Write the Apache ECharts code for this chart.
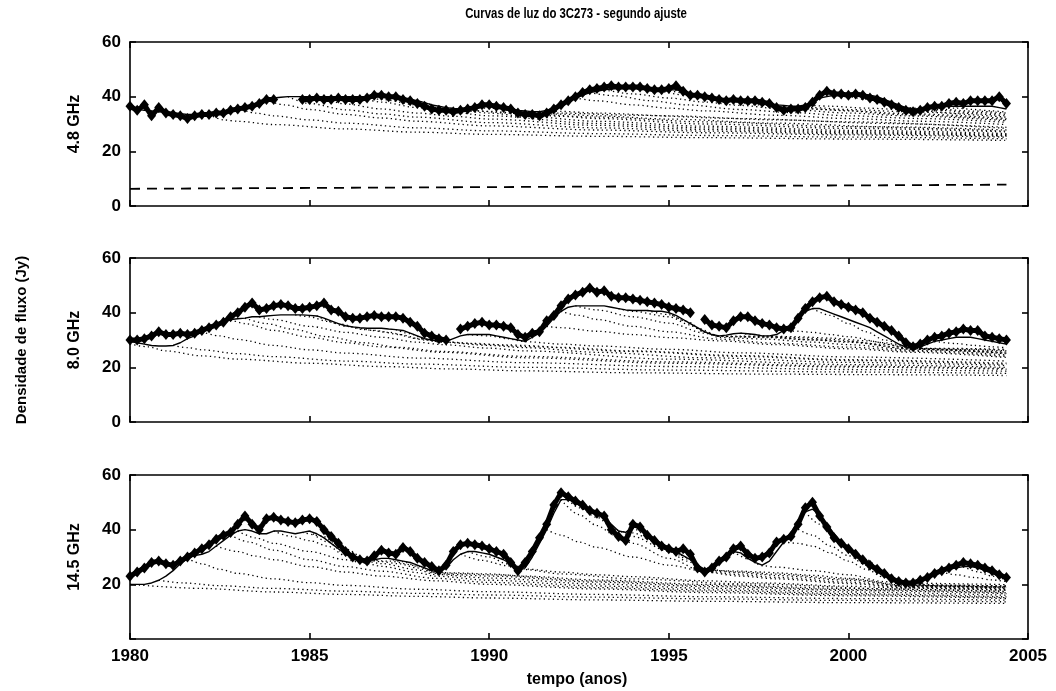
<!DOCTYPE html>
<html>
<head>
<meta charset="utf-8">
<script src="https://cdn.jsdelivr.net/npm/echarts@6/dist/echarts.min.js"></script>
<style>
html,body{margin:0;padding:0;background:#fff;}
#chart{width:1056px;height:691px;}
</style>
</head>
<body>
<div id="chart"></div>
<script>
// ---------------- DATA ----------------
const titleText = 'Curvas de luz do 3C273 - segundo ajuste';
const panelLabels = ['4.8 GHz', '8.0 GHz', '14.5 GHz'];
const yLabel = 'Densidade de fluxo (Jy)';
const xLabel = 'tempo (anos)';
const xTicks = [1980, 1985, 1990, 1995, 2000, 2005];
const yTicks = [0, 20, 40, 60];

// sampling times: 1980.0 ... 2004.4, every 0.2 yr (5 per year)
const years = [];
for (let i = 0; i < 123; i++) years.push(Math.round((1980 + i * 0.2) * 10) / 10);

// 4.8 GHz observed flux (Jy)
const obs48 = [
  36.5, 35, 37, 33, 36,        // 1980
  34, 33.5, 33, 32, 33,        // 1981
  33.5, 33.5, 34, 34, 35,      // 1982
  35.5, 36, 36.5, 37.5, 39,    // 1983
  39, null, null, null, 39,    // 1984
  39, 39.5, 39, 39, 39.5,      // 1985
  39, 39, 39, 39.5, 40.5,      // 1986
  40.5, 40, 40, 39, 38.5,      // 1987
  37.5, 36.5, 35.5, 35, 35,    // 1988
  34.5, 35, 35.5, 36, 37,      // 1989
  37, 36.5, 36, 35.5, 34,      // 1990
  33.5, 33.5, 33, 34, 35.5,    // 1991
  37, 38.5, 40, 41.5, 42.5,    // 1992
  43, 43.5, 44, 43.5, 43.5,    // 1993
  43.5, 43.5, 43, 42.5, 42.5,  // 1994
  43, 44, 42, 40.5, 40.5,      // 1995
  40, 39.5, 39, 38.5, 39,      // 1996
  38.5, 38.5, 38.5, 38, 37.5,  // 1997
  36, 35, 35.5, 35.5, 36,      // 1998
  38, 40.5, 42, 41, 41,        // 1999
  40.5, 41, 40.5, 39.5, 39,    // 2000
  38, 37, 36, 35, 34.5,        // 2001
  35, 36, 36.5, 36.5, 37.5,    // 2002
  38, 37.5, 38.5, 38.5, 38.5,  // 2003
  38.5, 40, 37.5               // 2004
];
// 4.8 GHz fitted total (solid)
const fit48 = [
  36, 35.5, 35, 34.8, 34.5,
  34.3, 34, 33.8, 33.5, 33.5,
  33.5, 33.5, 34, 34.5, 35.5,
  36, 36.5, 37, 38, 38.8,
  39.5, 39.8, 40, 40, 40,
  40, 40, 40, 40, 40,
  40, 40, 40, 40, 40,
  40, 40, 40, 39.5, 39,
  38.5, 37.8, 37, 36.5, 36,
  35.7, 35.5, 35.5, 36, 36.3,
  36.5, 36.3, 36, 35.5, 35,
  34.8, 34.5, 34.5, 35, 36,
  37, 38.3, 39.5, 40.5, 41.5,
  42, 42.5, 42.8, 43, 43,
  43, 43, 43, 42.8, 42.5,
  42.5, 42.5, 42, 41, 40.5,
  40, 39.5, 39, 38.8, 38.5,
  38.3, 38, 37.8, 37.5, 37.3,
  37, 36.8, 36.5, 36.5, 37,
  38, 39.5, 40, 40.5, 40.8,
  41, 41, 41, 40.5, 40,
  39, 38, 37, 36, 35.6,
  35.5, 35.8, 36, 36.3, 36.5,
  36.5, 36.5, 36.5, 36.5, 36.5,
  36.5, 36, 35.5
];
// 4.8 GHz constant component (dashed)
const base48 = [[1980, 6.3], [2004.4, 7.8]];
// 4.8 GHz cumulative component curves (dotted), [year, Jy]
const dots48 = [
  [[1982.2,33.5],[1982.6,31.5],[1983,31],[1984,29.8],[1986,28.2],[1988,27],[1990,26.2],[1993,25.5],[1996,25],[2000,24.5],[2004.4,24]],
  [[1983,35.8],[1983.5,34],[1984,33],[1985,31.5],[1986,30.3],[1988,28.6],[1990,27.5],[1993,26.5],[1996,25.8],[2000,25.2],[2004.4,24.6]],
  [[1983.8,38.8],[1984.3,37],[1985,35.3],[1986,33.5],[1987,32.2],[1988,31],[1990,29.3],[1993,27.8],[1996,26.8],[2000,26],[2004.4,25.2]],
  [[1984.4,40],[1985,37.5],[1986,35.2],[1987,33.7],[1988,32.5],[1990,30.5],[1993,28.6],[1996,27.4],[2000,26.4],[2004.4,25.5]],
  [[1985,40],[1985.5,38.5],[1986,37.3],[1987,35.5],[1988,34],[1989,32.8],[1990,31.8],[1993,29.5],[1996,28],[2000,26.8],[2004.4,25.8]],
  [[1986,40],[1986.5,39],[1987,38],[1988,36],[1989,34.2],[1990,33],[1993,30.2],[1996,28.6],[2000,27.2],[2004.4,26.1]],
  [[1986.5,40],[1987,39],[1988,37],[1989,35.2],[1990,34],[1991,32.8],[1993,31],[1996,29.2],[2000,27.7],[2004.4,26.5]],
  [[1987.6,39.5],[1988,38.2],[1989,35],[1990,34.6],[1991,33.8],[1992,32.8],[1993,32],[1996,30],[2000,28.4],[2004.4,27.1]],
  [[1988.8,36],[1989.5,35],[1990.5,34],[1991.2,33.5],[1993,32.5],[1996,30.8],[2000,29],[2004.4,27.4]],
  [[1989.6,36],[1990,35.8],[1991,34.2],[1992,33.6],[1993,33],[1995,31.8],[1998,30.3],[2001,29],[2004.4,27.8]],
  [[1990.4,36],[1991,34.4],[1992,34],[1994,33.2],[1997,32],[2000,30.8],[2004.4,28.4]],
  [[1991.6,35],[1992,34.6],[1993,34],[1995,33],[1998,31.5],[2001,30.2],[2004.4,28.8]],
  [[1992.4,39.5],[1993,38.5],[1994,37],[1995,35.8],[1996,34.8],[1998,33.2],[2000,32],[2002,31],[2004.4,29.8]],
  [[1992.8,41.5],[1993.5,40.3],[1994.5,38.5],[1995.5,37],[1997,35.3],[1998.4,34.2],[2000,33],[2002,32],[2004.4,30.6]],
  [[1993.2,42.5],[1994,41],[1995,39.5],[1996,38],[1997,36.8],[1998,35.7],[2000,34],[2001.6,33],[2004.4,31.2]],
  [[1994,43],[1994.5,42.4],[1995.5,40.5],[1996.5,38.5],[1997.5,37],[1998.4,36],[1999.5,35.2],[2001.6,33.4],[2004.4,31.6]],
  [[1994.4,43],[1995,42],[1996,39.8],[1997,38],[1998,36.3],[1999,35.5],[2000,34.8],[2001.6,33.8],[2004.4,32]],
  [[1995.6,41],[1996,40],[1997,38.3],[1998,36.6],[1998.4,36.3],[1999,36],[2000,35.3],[2001.6,34.5],[2004.4,32.5]],
  [[1998.8,37],[1999.5,36.5],[2000.5,35.8],[2001.6,35.2],[2003,34],[2004.4,33]],
  [[1999.6,40.5],[2000,40],[2000.5,39],[2001,37.5],[2001.6,35.7],[2002.5,35],[2003.5,34.2],[2004.4,33.5]],
  [[2000.4,41],[2001,38.3],[2001.6,35.9],[2002.5,35.4],[2003.5,34.7],[2004.4,34]],
  [[2002.4,36],[2003,35.8],[2003.5,35.3],[2004,34.8],[2004.4,34.3]]
];

// 8.0 GHz observed flux (Jy)
const obs80 = [
  30, 30, 30.5, 31.5, 33,
  32, 32, 32.5, 32, 32.5,
  33.5, 34.5, 35.5, 36.5, 38.5,
  40, 42, 43.5, 41, 41.5,
  42.5, 43, 42.5, 41.5, 41.5,
  42, 42.5, 43.5, 41, 40.5,
  38.5, 38, 38, 38.5, 39,
  38.5, 38.5, 38.5, 38, 36.5,
  35, 32.5, 31.5, 30.5, 30,
  null, 34, 35, 36, 36.5,
  35.5, 35.5, 35, 34.5, 32,
  31, 32.5, 33, 37, 39,
  42.5, 45, 46.5, 47.5, 49,
  47.5, 48, 46, 45.5, 45.5,
  45, 44.5, 44, 43.5, 43,
  42, 41.5, 41, 40, null,
  37.5, 35.5, 35, 34.5, 37,
  38.5, 38.5, 37, 36, 35.5,
  34.5, 34, 34.5, 38, 41.5,
  44, 45.5, 46, 44, 43,
  42, 41, 40, 38, 36.5,
  35, 33.5, 31.5, 29, 27.5,
  28.5, 30, 31, 31.5, 32.5,
  33, 34, 33.5, 33.5, 31.5,
  31, 30.5, 30
];
// 8.0 GHz fitted total (solid)
const fit80 = [
  29.5, 29, 28.5, 28, 27.8,
  27.8, 28, 29, 30.5, 31.5,
  33, 34, 35, 36.5, 37.5,
  37.8, 38, 38.5, 38.5, 38.8,
  39, 39.2, 39.2, 39.2, 39.2,
  39, 38.8, 38, 37, 36,
  35.2, 34.8, 34.5, 34.3, 34.3,
  34.3, 34, 33.8, 33.5, 32.5,
  31.5, 30.5, 30, 29.5, 29.5,
  30.5, 31.5, 32, 32, 32,
  32, 31.5, 31, 30.5, 30,
  29.5, 31, 32.5, 35, 38,
  40.5, 42, 42.5, 42.5, 42.5,
  42.5, 42.5, 42, 41.5, 41,
  40.8, 40.8, 40.8, 40.5, 40.5,
  40, 39, 37.5, 36, 34.5,
  33, 32, 31.5, 31.8, 32.3,
  32.5, 32.3, 32, 31.5, 31.5,
  32, 33.5, 35.5, 38, 40.5,
  41.5, 41.5, 40.5, 39.5, 38.5,
  37.5, 36.5, 35.5, 34.5, 33,
  31.5, 30, 28.5, 27.5, 27,
  27.5, 28.5, 29.5, 30, 30.5,
  31, 31, 31, 30.5, 30,
  29.5, 29, 28.5
];
// 8.0 GHz cumulative component curves (dotted)
const dots80 = [
  [[1980,28.5],[1980.5,27.5],[1981,26],[1982,24.2],[1983,23],[1985,21.5],[1987,20.3],[1989,19.4],[1991,18.7],[1994,18],[1998,17.5],[2001,17.3],[2004.4,17]],
  [[1981.2,28],[1981.6,27.2],[1982,26.4],[1983,25],[1984,23.9],[1986,22.3],[1988,21.2],[1991,20],[1995,19],[2000,18.3],[2004.4,17.8]],
  [[1982,33],[1982.5,31.5],[1983,30.2],[1984,28],[1985,26.4],[1986,25.2],[1988,23.4],[1991,21.7],[1995,20.3],[2000,19.2],[2004.4,18.6]],
  [[1982.8,37.5],[1983.2,36],[1984,33.5],[1985,31],[1986,29],[1987,27.5],[1988.7,25.5],[1991,23.5],[1995,21.5],[2000,20.1],[2004.4,19.3]],
  [[1983.2,38],[1983.8,36],[1984.5,34],[1985.5,31.2],[1986.5,29],[1987.5,27.3],[1988.7,25.8],[1991,24],[1995,22],[2000,20.4],[2004.4,19.6]],
  [[1983.6,38.5],[1984,37.5],[1985,35],[1986,32.8],[1987,31],[1988,29.2],[1988.7,28.3],[1990,27],[1991,26],[1995,23],[2000,21],[2004.4,20]],
  [[1984.6,39.2],[1985,38.5],[1985.5,36.8],[1986,35],[1986.8,33.5],[1987.5,32],[1988.2,30],[1988.7,29.2],[1990,28],[1991,27.2],[1993,25.5],[1996,23.5],[2000,21.8],[2004.4,20.7]],
  [[1985.2,38.8],[1985.8,36],[1986.5,33.8],[1987.2,32.8],[1988,30.5],[1988.7,29.3],[1990,28.3],[1991,27.6],[1994,25.8],[1997,24],[2000,22.5],[2004.4,21.1]],
  [[1987.4,33.8],[1987.8,32.3],[1988.2,30.3],[1988.7,29.4],[1989.5,28.8],[1990.5,28.2],[1991,28],[1992,27.3],[1994,26],[1997,24.3],[2000,22.8],[2004.4,21.5]],
  [[1989.4,32],[1990,31.5],[1990.5,30.5],[1991,29.4],[1992,28.5],[1993,27.8],[1995,26.6],[1997,25.3],[2000,23.8],[2004.4,22.3]],
  [[1991.6,35],[1992,34.5],[1993,33.2],[1994,32],[1995,30.9],[1996.4,29.7],[1998,28.3],[2000,26.8],[2001.8,25.5],[2004.4,23.6]],
  [[1992,40.5],[1992.5,39],[1993,37.5],[1994,35],[1995,33],[1996.4,30.3],[1998,28.8],[2000,27.4],[2001.8,25.9],[2004.4,24]],
  [[1992.4,42.5],[1993,41],[1994,38.5],[1995,36.2],[1996,32.5],[1996.4,31],[1997,30.6],[1997.7,30.3],[1999,29.2],[2000,28.3],[2001.8,26.3],[2004.4,24.5]],
  [[1993.6,41.5],[1994,40.5],[1995,38.5],[1995.6,35.5],[1996,32.8],[1996.4,31.3],[1997,31.1],[1997.7,30.9],[1999,30],[2000,29.2],[2001.8,26.6],[2004.4,25]],
  [[1994.4,40.8],[1995,39.3],[1995.5,36.8],[1996,33],[1996.4,31.35],[1997,31.2],[1997.7,31.1],[1999,30.1],[2000,29.4],[2001.8,26.7],[2004.4,25.2]],
  [[1995,40],[1995.4,37.2],[1995.8,34.3],[1996.4,31.45],[1997,31.4],[1997.7,31.3],[1998.5,30.9],[1999.5,30.2],[2001,28.4],[2001.8,26.8],[2004.4,25.5]],
  [[1997,32.5],[1997.4,31.9],[1997.7,31.4],[1998.5,31.2],[1999.5,30.7],[2000.5,29.7],[2001.8,26.9],[2003,26.5],[2004.4,26]],
  [[1998.2,33.5],[1998.6,33.2],[1999,32.8],[1999.5,32],[2000,31.2],[2001,29],[2001.8,26.95],[2003,26.7],[2004.4,26.3]],
  [[1999,41.5],[1999.5,39],[2000,36],[2000.5,33],[2001,30],[2001.8,26.98],[2003,26.9],[2004.4,26.6]],
  [[2002.4,29.5],[2003,28.7],[2003.5,28],[2004,27.5],[2004.4,27.2]]
];

// 14.5 GHz observed flux (Jy)
const obs145 = [
  23, 24.5, 26, 28, 28.5,
  27.5, 27, 28.5, 30, 31.5,
  33, 34.5, 36.5, 38, 39,
  42, 45, 42, 40, 44,
  44.5, 43.5, 43, 42.5, 43.5,
  44, 43, 40, 37.5, 35,
  32, 30, 29, 28.5, 30.5,
  32.5, 31.5, 31, 33.5, 32,
  29.5, 28, 26.5, 25, 27,
  32, 34.5, 35, 34.5, 34,
  33, 32, 31, 28, 25,
  28, 32, 37, 42, 49,
  53.5, 52, 50.5, 49, 47,
  46, 45, 40, 37.5, 36,
  42, 41, 38, 36, 34,
  33, 32, 33, 31, 26,
  24.5, 26, 28.5, 30, 33,
  34, 31, 29.5, 30, 31.5,
  35.5, 36.5, 37.5, 42, 48,
  50, 45, 41, 37, 35,
  33, 31, 29, 27, 25.5,
  24, 22, 21, 20.5, 20.5,
  21.5, 22.5, 24, 25, 26,
  27, 28, 27.5, 27, 26,
  25, 23.5, 22.5
];
// 14.5 GHz fitted total (solid)
const fit145 = [
  20, 20, 20, 20.5, 21.5,
  23, 25, 27.5, 29.5, 30.5,
  31, 32, 34, 36, 38,
  39.5, 40, 39.5, 38.5, 38.5,
  39.5, 39.5, 39, 38.5, 39,
  39.5, 38.5, 37, 35, 33,
  31.5, 30, 29.5, 29, 29,
  29.5, 29.5, 29, 28.5, 28,
  27, 26, 25, 24.5, 26,
  29, 31, 32, 32, 31.5,
  31, 30, 29, 27.5, 26,
  26, 30, 35, 40, 46,
  51, 51, 50, 48.5, 47,
  46, 44.5, 42, 39.5, 39,
  41, 40.5, 38.5, 36.5, 35,
  33.5, 32, 30.5, 29, 27,
  25.5, 26.5, 28.5, 30.5, 32,
  31.5, 29.5, 28, 27, 28.5,
  32, 35.5, 39, 43, 46.5,
  47.5, 45.5, 42, 38.5, 35.5,
  33, 30.5, 28.5, 26.5, 24.5,
  23, 21.5, 20.5, 20, 20.5,
  21.5, 22.5, 23.5, 24.5, 25.5,
  26, 26.5, 26.5, 26, 25,
  24, 23, 22
];
// 14.5 GHz cumulative component curves (dotted)
const dots145 = [
  [[1980,20],[1982,18.5],[1984,17.2],[1986,16.3],[1988,15.6],[1990,15],[1993,14.3],[1996,13.8],[2000,13.3],[2004.4,13]],
  [[1980.8,21.5],[1981.5,20.5],[1982.5,19.5],[1984,18.5],[1986,17.5],[1988,16.7],[1990,16.1],[1993,15.3],[1996,14.7],[2000,14.1],[2004.4,13.6]],
  [[1981.6,29.5],[1982,27.5],[1982.5,25.5],[1983,24],[1984,22],[1985,20.6],[1986,19.6],[1988,18.2],[1990,17.3],[1993,16.3],[1996,15.5],[2000,14.8],[2004.4,14.2]],
  [[1982.4,34],[1983,32],[1983.5,30.3],[1984,29],[1985,26.5],[1986,24.5],[1987,23],[1988.5,21.3],[1990,20],[1993,18.3],[1996,17],[2000,15.8],[2004.4,14.8]],
  [[1982.8,38],[1983.3,35.5],[1984,32.5],[1985,29],[1986,26.5],[1987,24.8],[1988.5,22.2],[1990,20.7],[1993,18.8],[1996,17.5],[2000,16.2],[2004.4,15.1]],
  [[1983,39.5],[1983.5,37],[1984,35],[1985,32],[1986,29],[1986.5,27.8],[1987,26.6],[1988,24.3],[1988.5,23],[1990,21.5],[1993,19.4],[1996,18],[2000,16.6],[2004.4,15.4]],
  [[1984,39.5],[1984.5,37.5],[1985,36],[1985.5,34],[1986,30.5],[1986.5,28.6],[1987,27.6],[1988,25.3],[1988.5,23.6],[1990,22.3],[1993,20.1],[1996,18.6],[2000,17.2],[2004.4,16]],
  [[1984.8,39],[1985.3,37.8],[1986,33],[1986.6,28.9],[1987.2,28.5],[1988,26.8],[1988.5,24.4],[1989,24],[1990,23.5],[1993,21.2],[1996,19.6],[2000,18.1],[2004.4,16.9]],
  [[1985,39.5],[1985.5,35.5],[1986,31.2],[1986.5,28.9],[1987,28.3],[1987.5,27.5],[1988,26],[1988.5,24],[1989,23.6],[1990,23],[1993,20.8],[1996,19.2],[2000,17.8],[2004.4,16.6]],
  [[1987.2,29.5],[1987.6,28.3],[1988,26.6],[1988.5,24.3],[1989,24.2],[1990,23.8],[1991,23],[1993,21.6],[1996,20],[2000,18.5],[2004.4,17.2]],
  [[1989.2,31],[1989.8,28.8],[1990.5,26.8],[1991,25.4],[1992,23.8],[1994,22],[1997,20.2],[2001.6,18.2],[2004.4,17.5]],
  [[1989.4,32],[1990,30],[1990.5,27.5],[1991,25.6],[1992,24.5],[1993,23.5],[1994,22.8],[1996,21.3],[1997.6,20.5],[2000,19.3],[2001.6,18.6],[2004.4,17.8]],
  [[1991.6,40],[1992,38],[1992.5,35.5],[1993,33.5],[1994,30],[1995,27],[1996,24.8],[1997,23.5],[1998,22.5],[2000,20.8],[2001.6,19],[2004.4,18.3]],
  [[1992,51],[1992.5,45.5],[1993,41.5],[1993.5,38],[1994,35],[1995,29.5],[1996,24.5],[1997,23],[1998,22],[2000,20.3],[2001.6,18.8],[2004.4,18]],
  [[1992.2,51],[1992.5,48],[1993,44.5],[1993.5,40],[1994,37.5],[1995,32],[1995.5,28.5],[1996,25.2],[1997,24.2],[1997.6,23.6],[1998,23.2],[2000,21.5],[2001.6,19.3],[2004.4,18.6]],
  [[1992.6,48.5],[1993,46],[1993.6,39.4],[1994,38.8],[1994.5,36.5],[1995,33.3],[1995.5,29.9],[1996,25.45],[1997,24.5],[1998,23.7],[2000,21.9],[2001.6,19.4],[2004.4,18.7]],
  [[1994,41],[1994.5,37.3],[1995,33],[1995.5,29.3],[1996,25.4],[1996.5,25],[1997,24.8],[1997.6,24.5],[1998,24.2],[1999,23.3],[2000,22.2],[2001.6,19.6],[2004.4,18.9]],
  [[1996.8,32],[1997.2,29.3],[1997.6,26.8],[1998,26.3],[1999,25],[2000,23.5],[2001,21],[2001.6,19.8],[2003,19.3],[2004.4,19.1]],
  [[1998.2,35.5],[1998.6,35],[1999,34],[1999.5,31.5],[2000,28.5],[2000.5,25.5],[2001,22.5],[2001.6,20],[2002,19.8],[2003,19.6],[2004.4,19.4]],
  [[1998.5,41],[1999,38],[1999.5,34],[2000,30.5],[2000.5,27],[2001,23.5],[2001.6,19.85],[2003,19.5],[2004.4,19.2]],
  [[1998.8,46.5],[1999.2,42],[1999.6,37.5],[2000,33.5],[2000.5,29],[2001,24.5],[2001.6,19.9],[2002.5,19.7],[2004.4,19.3]],
  [[2001.8,20.5],[2002.5,20.3],[2003.5,20.1],[2004.4,19.9]],
  [[2002.6,24.5],[2003,23.5],[2003.5,22.5],[2004,21.6],[2004.4,21]],
  [[2003.2,26.5],[2003.6,24.6],[2004,23],[2004.4,21.6]]
];

// ---------------- CHART ----------------
const FONT = '"Liberation Sans", Arial, Helvetica, sans-serif';
const chart = echarts.init(document.getElementById('chart'), null, {renderer: 'canvas'});

const gridLeft = 130, gridRight = 1056 - 1028;
const grids = [
  {left: gridLeft, right: gridRight, top: 42, height: 164},
  {left: gridLeft, right: gridRight, top: 258, height: 164},
  {left: gridLeft, right: gridRight, top: 475, height: 164}
];

const AXC = {color: '#000', width: 1.6};
const xAxes = [], yAxes = [];
grids.forEach((g, gi) => {
  const isLast = gi === 2;
  xAxes.push({
    type: 'value', gridIndex: gi, position: 'bottom',
    min: xTicks[0], max: xTicks[xTicks.length - 1], interval: 5,
    axisLine: {show: true, onZero: false, lineStyle: AXC},
    axisTick: {show: true, inside: true, length: 6, lineStyle: AXC},
    axisLabel: {show: isLast, color: '#000', fontSize: 17, fontWeight: 'bold', fontFamily: FONT, margin: 9, formatter: v => String(v)},
    splitLine: {show: false}
  });
  xAxes.push({
    type: 'value', gridIndex: gi, position: 'top',
    min: xTicks[0], max: xTicks[xTicks.length - 1], interval: 5,
    axisLine: {show: true, onZero: false, lineStyle: AXC},
    axisTick: {show: true, inside: true, length: 6, lineStyle: AXC},
    axisLabel: {show: false}, splitLine: {show: false}
  });
  yAxes.push({
    type: 'value', gridIndex: gi, position: 'left',
    min: yTicks[0], max: yTicks[yTicks.length - 1], interval: 20,
    axisLine: {show: true, onZero: false, lineStyle: AXC},
    axisTick: {show: true, inside: true, length: 6, lineStyle: AXC},
    axisLabel: {show: true, color: '#000', fontSize: 17, fontWeight: 'bold', fontFamily: FONT, margin: 9,
      formatter: v => (isLast && v === 0) ? '' : String(v)},
    splitLine: {show: false}
  });
  yAxes.push({
    type: 'value', gridIndex: gi, position: 'right',
    min: yTicks[0], max: yTicks[yTicks.length - 1], interval: 20,
    axisLine: {show: true, onZero: false, lineStyle: AXC},
    axisTick: {show: true, inside: true, length: 6, lineStyle: AXC},
    axisLabel: {show: false}, splitLine: {show: false}
  });
});

function pairs(vals) {
  const out = [];
  vals.forEach((v, i) => { if (v !== null && v !== undefined) out.push([years[i], v]); });
  return out;
}
function pairsGap(vals) {
  return vals.map((v, i) => [years[i], (v === null || v === undefined) ? '-' : v]);
}

const series = [];
function addPanel(gi, obs, fit, dots) {
  const ax = {xAxisIndex: gi * 2, yAxisIndex: gi * 2};
  dots.forEach(curve => {
    series.push(Object.assign({
      type: 'line', data: curve, showSymbol: false, symbol: 'none', silent: true,
      smooth: 0.3, smoothMonotone: 'x',
      lineStyle: {color: '#000', width: 1.3, type: [1.3, 3.2]}, z: 2
    }, ax));
  });
  series.push(Object.assign({
    type: 'line', data: pairs(fit), showSymbol: false, symbol: 'none', silent: true,
    lineStyle: {color: '#000', width: 1.4}, z: 3
  }, ax));
  // observed band (connecting stroke under the diamond markers)
  series.push(Object.assign({
    type: 'line', data: pairsGap(obs), showSymbol: false, symbol: 'none', silent: true, connectNulls: false,
    lineStyle: {color: '#000', width: 5}, z: 4
  }, ax));
  series.push(Object.assign({
    type: 'scatter', data: pairs(obs), symbol: 'diamond', symbolSize: [9, 11], silent: true,
    itemStyle: {color: '#000', opacity: 1}, z: 5
  }, ax));
}
addPanel(0, obs48, fit48, dots48);
addPanel(1, obs80, fit80, dots80);
addPanel(2, obs145, fit145, dots145);
series.push({
  type: 'line', xAxisIndex: 0, yAxisIndex: 0, data: base48, showSymbol: false, symbol: 'none', silent: true,
  lineStyle: {color: '#000', width: 1.8, type: [10, 7]}, z: 3
});

const txt = (x, y, text, font, rot, sx) => ({
  type: 'text', x: x, y: y, rotation: rot || 0, scaleX: sx || 1, silent: true,
  style: {text: text, fill: '#000', font: font, textAlign: 'center', textVerticalAlign: 'middle'}
});

chart.setOption({
  animation: false,
  backgroundColor: '#fff',
  grid: grids,
  xAxis: xAxes,
  yAxis: yAxes,
  series: series,
  graphic: [
    txt(576, 14, titleText, 'bold 15px ' + FONT, 0, 0.76),
    txt(577, 680, xLabel, 'bold 16px ' + FONT),
    txt(22, 340, yLabel, 'bold 15px ' + FONT, Math.PI / 2),
    txt(75, 124, panelLabels[0], 'bold 16px ' + FONT, Math.PI / 2),
    txt(75, 340, panelLabels[1], 'bold 16px ' + FONT, Math.PI / 2),
    txt(75, 557, panelLabels[2], 'bold 16px ' + FONT, Math.PI / 2)
  ]
});
</script>
</body>
</html>
